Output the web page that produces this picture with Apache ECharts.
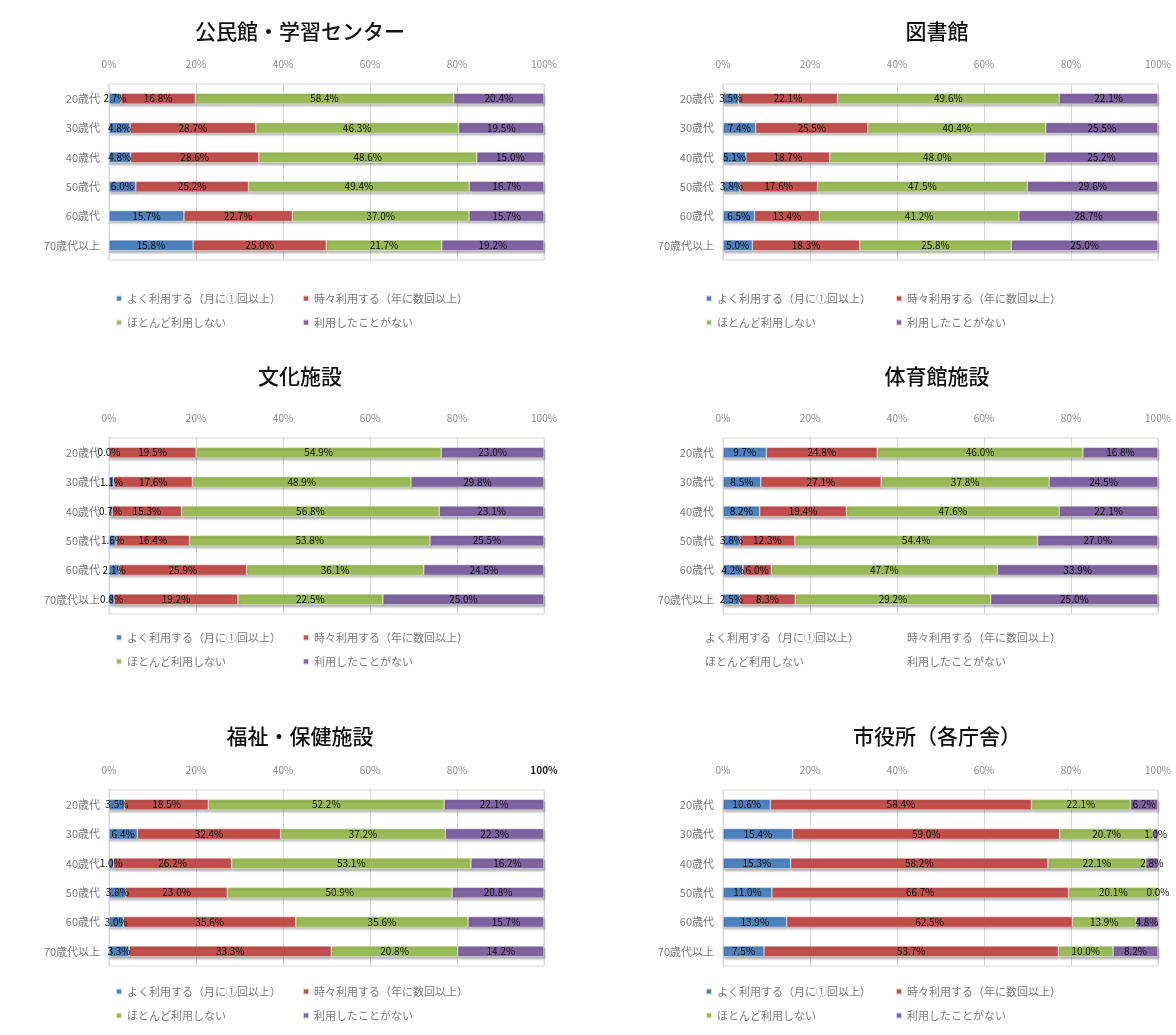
<!DOCTYPE html>
<html><head><meta charset="utf-8">
<script src="https://cdn.jsdelivr.net/npm/echarts@6/dist/echarts.min.js"></script>
<style>html,body{margin:0;padding:0;background:#fff}#c{width:1176px;height:1035px}</style>
</head><body><div id="c"></div>
<script>
const categories = ['20歳代','30歳代','40歳代','50歳代','60歳代','70歳代以上'];
const seriesNames = ['よく利用する（月に①回以上）','時々利用する（年に数回以上）','ほとんど利用しない','利用したことがない'];
const tickLabels = ['0%','20%','40%','60%','80%','100%'];
const panelTitles = ['公民館・学習センター','図書館','文化施設','体育館施設','福祉・保健施設','市役所（各庁舎）'];

// 公民館・学習センター
const kominkanOften     = [2.7, 4.8, 4.8, 6.0, 15.7, 15.8];
const kominkanSometimes = [16.8, 28.7, 28.6, 25.2, 22.7, 25.0];
const kominkanRarely    = [58.4, 46.3, 48.6, 49.4, 37.0, 21.7];
const kominkanNever     = [20.4, 19.5, 15.0, 16.7, 15.7, 19.2];
// 図書館
const toshokanOften     = [3.5, 7.4, 5.1, 3.8, 6.5, 5.0];
const toshokanSometimes = [22.1, 25.5, 18.7, 17.6, 13.4, 18.3];
const toshokanRarely    = [49.6, 40.4, 48.0, 47.5, 41.2, 25.8];
const toshokanNever     = [22.1, 25.5, 25.2, 29.6, 28.7, 25.0];
// 文化施設
const bunkaOften        = [0.0, 1.1, 0.7, 1.6, 2.1, 0.8];
const bunkaSometimes    = [19.5, 17.6, 15.3, 16.4, 25.9, 19.2];
const bunkaRarely       = [54.9, 48.9, 56.8, 53.8, 36.1, 22.5];
const bunkaNever        = [23.0, 29.8, 23.1, 25.5, 24.5, 25.0];
// 体育館施設
const taiikuOften       = [9.7, 8.5, 8.2, 3.8, 4.2, 2.5];
const taiikuSometimes   = [24.8, 27.1, 19.4, 12.3, 6.0, 8.3];
const taiikuRarely      = [46.0, 37.8, 47.6, 54.4, 47.7, 29.2];
const taiikuNever       = [16.8, 24.5, 22.1, 27.0, 33.9, 25.0];
// 福祉・保健施設
const fukushiOften      = [3.5, 6.4, 1.0, 3.8, 3.0, 3.3];
const fukushiSometimes  = [18.5, 32.4, 26.2, 23.0, 35.6, 33.3];
const fukushiRarely     = [52.2, 37.2, 53.1, 50.9, 35.6, 20.8];
const fukushiNever      = [22.1, 22.3, 16.2, 20.8, 15.7, 14.2];
// 市役所（各庁舎）
const shiyakushoOften     = [10.6, 15.4, 15.3, 11.0, 13.9, 7.5];
const shiyakushoSometimes = [58.4, 59.0, 58.2, 66.7, 62.5, 53.7];
const shiyakushoRarely    = [22.1, 20.7, 22.1, 20.1, 13.9, 10.0];
const shiyakushoNever     = [6.2, 1.0, 2.8, 0.0, 4.8, 8.2];

const panelData = [
  [kominkanOften, kominkanSometimes, kominkanRarely, kominkanNever],
  [toshokanOften, toshokanSometimes, toshokanRarely, toshokanNever],
  [bunkaOften, bunkaSometimes, bunkaRarely, bunkaNever],
  [taiikuOften, taiikuSometimes, taiikuRarely, taiikuNever],
  [fukushiOften, fukushiSometimes, fukushiRarely, fukushiNever],
  [shiyakushoOften, shiyakushoSometimes, shiyakushoRarely, shiyakushoNever]
];

const colors = ['#4F81BD','#C0504D','#9BBB59','#8064A2'];
const FONT = '"Noto Sans CJK JP", "Noto Sans", sans-serif';
const colLeft = [109, 723];
const rowTop = [84, 438, 790];
const titleX = [295, 932];
const titleTop = [16, 361, 721];
const legendTop = [288, 627, 981];
const legendX = [[110, 297], [700, 890]];

const option = {
  backgroundColor: '#fff',
  textStyle: {fontFamily: FONT},
  title: [], grid: [], xAxis: [], yAxis: [], series: [], legend: []
};

panelData.forEach((sets, p) => {
  const col = p % 2, row = Math.floor(p / 2);
  option.title.push({
    text: panelTitles[p], left: titleX[col], top: titleTop[row], textAlign: 'center',
    textStyle: {fontFamily: FONT, fontSize: 21, fontWeight: 500, color: '#111'}
  });
  option.grid.push({left: colLeft[col], top: rowTop[row], width: 435, height: 176,
    show: true, borderColor: '#d9d9d9', borderWidth: 1, containLabel: false});
  option.xAxis.push({
    type: 'value', gridIndex: p, position: 'top', min: 0, max: 100, interval: 20,
    axisLine: {show: false}, axisTick: {show: false},
    splitLine: {show: true, lineStyle: {color: '#d9d9d9', width: 1}},
    axisLabel: {
      margin: 15, fontSize: 10, color: '#8a8a8a', fontFamily: FONT,
      formatter: v => {
        const t = tickLabels[Math.round(v / 20)];
        return (p === 4 && v === 100) ? '{b|' + t + '}' : t;
      },
      rich: {b: {fontWeight: 'bold', color: '#222', fontSize: 10}}
    }
  });
  option.yAxis.push({
    type: 'category', gridIndex: p, data: categories, inverse: true,
    axisLine: {show: false}, axisTick: {show: false},
    axisLabel: {margin: 9, fontSize: 11, color: '#7a7a7a', fontFamily: FONT}
  });
  const totals = categories.map((c, i) => sets.reduce((s, a) => s + a[i], 0));
  sets.forEach((arr, k) => {
    option.series.push({
      type: 'bar', name: seriesNames[k], xAxisIndex: p, yAxisIndex: p,
      stack: 'p' + p, barWidth: 11,
      data: arr.map((v, i) => ({value: v / totals[i] * 100, raw: v})),
      itemStyle: {color: colors[k], borderColor: 'rgba(255,255,255,0.7)', borderWidth: 0.6,
        shadowColor: 'rgba(0,0,0,0.28)', shadowBlur: 2, shadowOffsetY: 2, shadowOffsetX: 1},
      label: {show: true, position: 'inside', fontSize: 10, color: '#111', fontFamily: FONT,
        formatter: prm => prm.data.raw.toFixed(1) + '%'},
      emphasis: {disabled: true},
      animation: false
    });
  });
  const hideIcon = (p === 3);
  [[0, 2], [1, 3]].forEach((pair, ci) => {
    option.legend.push({
      orient: 'vertical', left: (hideIcon && ci === 0) ? 688 : legendX[col][ci], top: legendTop[row],
      itemWidth: 6, itemHeight: 6, itemGap: 13, icon: 'rect',
      data: pair.map(k => seriesNames[k]),
      itemStyle: hideIcon ? {opacity: 0} : {},
      textStyle: {fontSize: 11, color: '#7a7a7a', fontFamily: FONT, padding: [0, 0, 0, 0]},
      selectedMode: false
    });
  });
});

const chart = echarts.init(document.getElementById('c'), null, {renderer: 'canvas'});
chart.setOption(option);
</script>
</body></html>
